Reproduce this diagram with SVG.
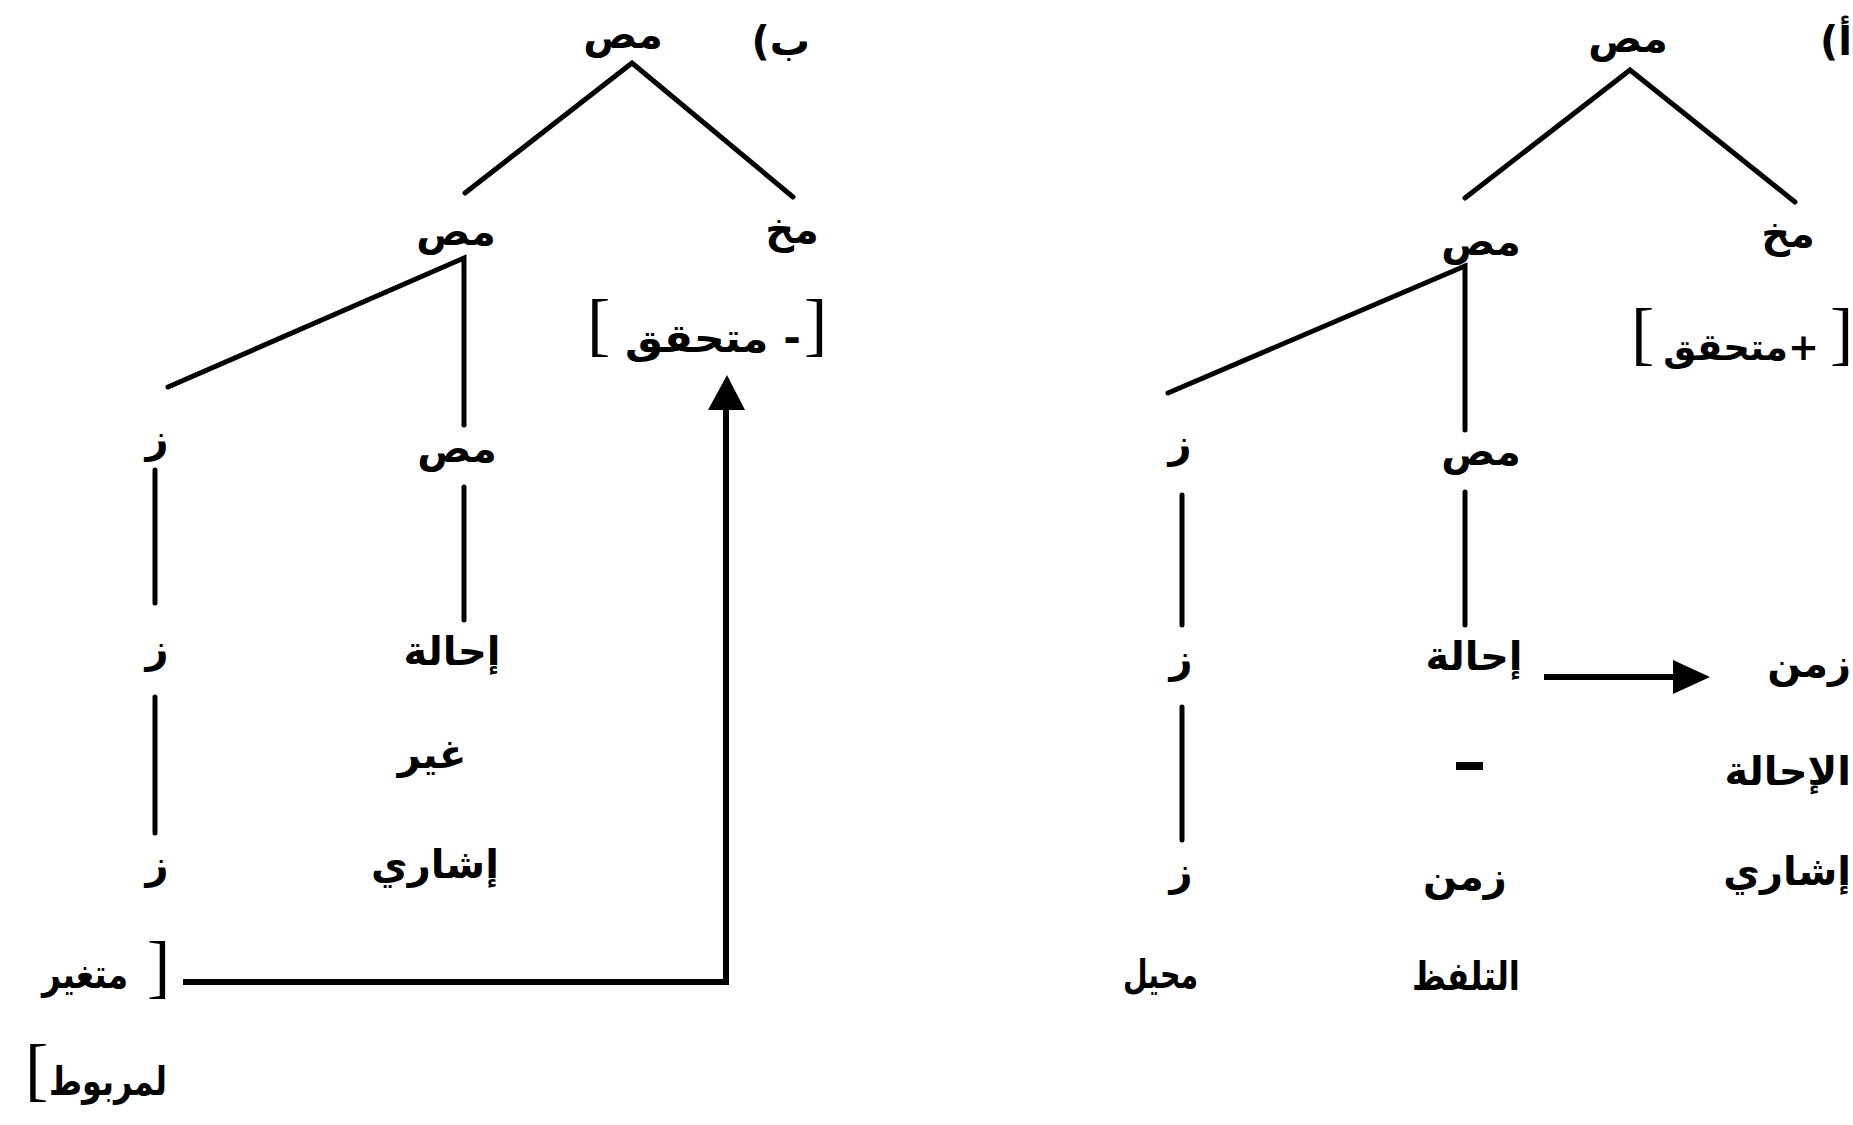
<svg xmlns="http://www.w3.org/2000/svg" width="1853" height="1125" viewBox="0 0 1853 1125">
<style>
text{font-family:"DejaVu Sans",sans-serif;font-size:40px;font-weight:bold;fill:#000}
.m{text-anchor:middle}
.r{text-anchor:start}
.bk{font-family:"Liberation Serif",serif;font-size:70px;font-weight:normal}
.ln{stroke:#000;stroke-width:5;fill:none;stroke-linecap:round}
.ar{stroke:#000;stroke-width:6;fill:none}
</style>
<rect width="1853" height="1125" fill="#fff"/>
<g id="connectors">
<path class="ln" d="M1465 198 L1630 70 L1795 202"/>
<path class="ln" d="M1168 393 L1465 266 L1465 430"/>
<path class="ln" d="M1465 492 L1465 625"/>
<path class="ln" d="M1182 495 L1182 625"/>
<path class="ln" d="M1182 707 L1182 840"/>
<path class="ar" d="M1544 677 L1676 677"/>
<polygon points="1710,677 1673,660 1673,694" fill="#000"/>
<path class="ln" d="M465 193 L632 63 L793 197"/>
<path class="ln" d="M168 387 L464 258 L464 425"/>
<path class="ln" d="M464 487 L464 620"/>
<path class="ln" d="M155 470 L155 603"/>
<path class="ln" d="M155 697 L155 833"/>
<path class="ar" d="M183 982 L726 982 L726 405"/>
<polygon points="727,375 708,410 745,410" fill="#000"/>
</g>
<g id="treeA-label"><text class="r" x="1852" y="55" direction="rtl">أ)</text></g>
<g id="A-root"><text class="m" x="1628" y="52">مص</text></g>
<g id="A-mukh"><text class="m" x="1788" y="247">مخ</text></g>
<g id="A-feature"><text class="bk" x="1631" y="357">[</text><text class="r" x="1819" y="360" direction="rtl" style="font-size:37px">+متحقق</text><text class="bk" x="1830" y="357">]</text></g>
<g id="A-mid"><text class="m" x="1481" y="255">مص</text></g>
<g id="A-z1"><text class="m" x="1180" y="457">ز</text></g>
<g id="A-low"><text class="m" x="1481" y="465">مص</text></g>
<g id="A-ihala"><text class="m" x="1474" y="670">إحالة</text></g>
<g id="A-z2"><text class="m" x="1181" y="672">ز</text></g>
<g id="A-zaman-r"><text class="r" x="1851" y="677" direction="rtl">زمن</text></g>
<g id="A-ihala-r"><text class="r" x="1851" y="785" direction="rtl">الإحالة</text></g>
<g id="A-ishari-r"><text class="r" x="1851" y="885" direction="rtl">إشاري</text></g>
<g id="A-dash"><rect x="1456" y="762" width="27" height="8" fill="#000"/></g>
<g id="A-z3"><text class="m" x="1181" y="885">ز</text></g>
<g id="A-zaman"><text class="m" x="1465" y="890">زمن</text></g>
<g id="A-muhil"><text class="r" x="1198" y="988" direction="rtl" textLength="75" lengthAdjust="spacingAndGlyphs">محيل</text></g>
<g id="A-talaffuz"><text class="r" x="1520" y="990" direction="rtl" textLength="108" lengthAdjust="spacingAndGlyphs">التلفظ</text></g>
<g id="treeB-label"><text class="r" x="810" y="55" direction="rtl">ب)</text></g>
<g id="B-root"><text class="m" x="623" y="48">مص</text></g>
<g id="B-mukh"><text class="m" x="792" y="243">مخ</text></g>
<g id="B-feature"><text class="bk" x="587" y="348">[</text><text class="r" x="801" y="352" direction="rtl" textLength="176" lengthAdjust="spacingAndGlyphs">- متحقق</text><text class="bk" x="804" y="348">]</text></g>
<g id="B-mid"><text class="m" x="456" y="245">مص</text></g>
<g id="B-z1"><text class="m" x="157" y="452">ز</text></g>
<g id="B-low"><text class="m" x="457" y="462">مص</text></g>
<g id="B-ihala"><text class="m" x="452" y="665">إحالة</text></g>
<g id="B-z2"><text class="m" x="157" y="662">ز</text></g>
<g id="B-ghayr"><text class="m" x="432" y="768">غير</text></g>
<g id="B-ishari"><text class="m" x="435" y="878">إشاري</text></g>
<g id="B-z3"><text class="m" x="157" y="878">ز</text></g>
<g id="B-variable"><text class="r" x="128" y="988" direction="rtl" textLength="86" lengthAdjust="spacingAndGlyphs">متغير</text><text class="bk" x="147" y="990">]</text></g>
<g id="B-bound"><text class="r" x="167" y="1095" direction="rtl" textLength="118" lengthAdjust="spacingAndGlyphs">لمربوط</text><text class="bk" x="25" y="1093">[</text></g>
</svg>
